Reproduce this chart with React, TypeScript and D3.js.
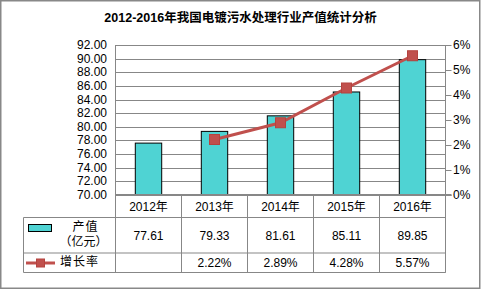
import React from "react";
import * as d3 from "d3";

const years = ["2012年", "2013年", "2014年", "2015年", "2016年"];
const output = [77.61, 79.33, 81.61, 85.11, 89.85];
const growth: (number | null)[] = [null, 2.22, 2.89, 4.28, 5.57];
const leftTicks = [70, 72, 74, 76, 78, 80, 82, 84, 86, 88, 90, 92];
const rightTicks = [0, 1, 2, 3, 4, 5, 6];
const title = "2012-2016年我国电镀污水处理行业产值统计分析";
const seriesBar = ["产值", "（亿元）"];
const seriesLine = "增长率";

const W = 481, H = 289;
const PL = 115.5, PR = 445.5, PT = 45, PB = 195;
const GRID = "#878787";
const BAR = "#4FD3D3";
const RED = "#C0504D";
const FONT = "'Liberation Sans', 'Noto Sans CJK SC', sans-serif";

export default function App() {
  const x = d3.scaleBand<string>().domain(years).range([PL, PR]).paddingInner(0).paddingOuter(0);
  const yL = d3.scaleLinear().domain([70, 92]).range([PB, PT]);
  const yR = d3.scaleLinear().domain([0, 6]).range([PB, PT]);
  const bw = x.bandwidth() * 0.4;
  const rowCat = 217.5, rowVal = 253, rowEnd = 272.5, TL = 23.5;
  const pts = years
    .map((yr, i) => ({ yr, v: growth[i] }))
    .filter((d) => d.v !== null) as { yr: string; v: number }[];
  const line = d3
    .line<{ yr: string; v: number }>()
    .x((d) => (x(d.yr) as number) + x.bandwidth() / 2)
    .y((d) => yR(d.v));
  const bounds = [PL, ...years.map((y) => (x(y) as number) + x.bandwidth())];

  return (
    <svg
      width={W}
      height={H}
      style={{ position: "absolute", left: 0, top: 0, background: "#fff" }}
      fontFamily={FONT}
    >
      <rect x={0.75} y={0.75} width={W - 2} height={H - 1.5} fill="#fff" stroke="#888" strokeWidth={1.5} />
      <text x={240.5} y={18} textAnchor="middle" dominantBaseline="central" fontSize={12.5} fontWeight="bold" fill="#000">
        {title}
      </text>

      {/* gridlines */}
      {leftTicks.slice(1).map((t) => (
        <line key={t} x1={PL} x2={PR} y1={Math.round(yL(t)) + 0.5} y2={Math.round(yL(t)) + 0.5} stroke={GRID} strokeWidth={1} />
      ))}
      {/* left axis labels */}
      {leftTicks.map((t) => (
        <text key={t} x={107} y={yL(t)} textAnchor="end" dominantBaseline="central" fontSize={12} fill="#000">
          {t.toFixed(2)}
        </text>
      ))}
      {/* right axis */}
      {rightTicks.map((t) => (
        <g key={t}>
          <line x1={PR} x2={PR + 6} y1={Math.round(yR(t)) + 0.5} y2={Math.round(yR(t)) + 0.5} stroke={GRID} />
          <text x={453} y={yR(t)} dominantBaseline="central" fontSize={12} fill="#000">
            {t + "%"}
          </text>
        </g>
      ))}

      {/* bars */}
      {years.map((yr, i) => (
        <rect
          key={yr}
          x={(x(yr) as number) + x.bandwidth() / 2 - bw / 2}
          y={yL(output[i])}
          width={bw}
          height={PB - yL(output[i])}
          fill={BAR}
          stroke="#000"
          strokeWidth={1}
        />
      ))}

      {/* axes lines */}
      <line x1={PL} x2={PL} y1={PT} y2={rowEnd} stroke={GRID} />
      <line x1={PR} x2={PR} y1={PT} y2={rowEnd} stroke={GRID} />
      <line x1={PL} x2={PR + 6} y1={PB} y2={PB} stroke={GRID} strokeWidth={2} />

      {/* growth line */}
      <path d={line(pts) || ""} fill="none" stroke={RED} strokeWidth={3} />
      {pts.map((d) => (
        <rect
          key={d.yr}
          x={(x(d.yr) as number) + x.bandwidth() / 2 - 5}
          y={yR(d.v) - 5}
          width={10}
          height={10}
          fill={RED}
          stroke="#B5433F"
          strokeWidth={1}
        />
      ))}

      {/* data table */}
      {bounds.map((bx, i) => (
        <line key={i} x1={bx} x2={bx} y1={PB} y2={rowEnd} stroke={GRID} />
      ))}
      <line x1={TL} x2={TL} y1={rowCat} y2={rowEnd} stroke={GRID} />
      <line x1={TL} x2={PR} y1={rowCat} y2={rowCat} stroke={GRID} />
      <line x1={TL} x2={PR} y1={rowVal} y2={rowVal} stroke={GRID} />
      <line x1={TL} x2={PR} y1={rowEnd} y2={rowEnd} stroke={GRID} />
      {years.map((yr, i) => {
        const cx = (x(yr) as number) + x.bandwidth() / 2;
        return (
          <g key={yr}>
            <text x={cx} y={206.5} textAnchor="middle" dominantBaseline="central" fontSize={12} fill="#000">
              {yr}
            </text>
            <text x={cx} y={235.5} textAnchor="middle" dominantBaseline="central" fontSize={12} fill="#000">
              {output[i].toFixed(2)}
            </text>
            {growth[i] !== null && (
              <text x={cx} y={263} textAnchor="middle" dominantBaseline="central" fontSize={12} fill="#000">
                {(growth[i] as number).toFixed(2) + "%"}
              </text>
            )}
          </g>
        );
      })}
      {/* legend keys */}
      <rect x={28.5} y={224.5} width={23} height={7} fill={BAR} stroke="#000" />
      <text x={85.5} y={227} textAnchor="middle" dominantBaseline="central" fontSize={12} letterSpacing={1} fill="#000">
        {seriesBar[0]}
      </text>
      <text x={83.5} y={242} textAnchor="middle" dominantBaseline="central" fontSize={12} fill="#000">
        {seriesBar[1]}
      </text>
      <line x1={26} x2={55} y1={263} y2={263} stroke={RED} strokeWidth={3} />
      <rect x={36.5} y={259} width={8} height={8} fill={RED} stroke="#B5433F" />
      <text x={60} y={262} dominantBaseline="central" fontSize={12} letterSpacing={1} fill="#000">
        {seriesLine}
      </text>
    </svg>
  );
}
